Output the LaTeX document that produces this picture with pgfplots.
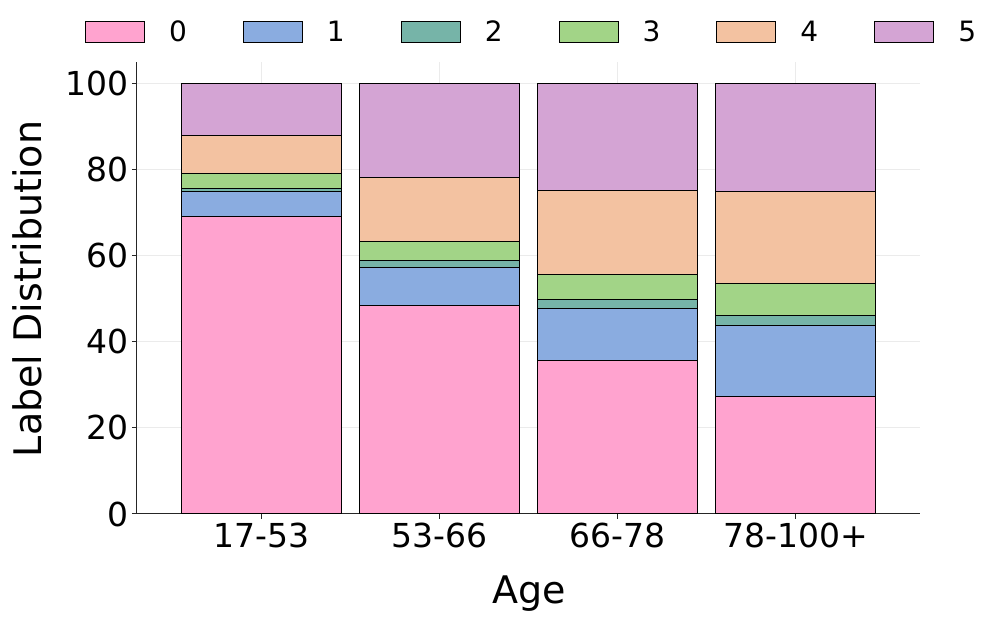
\documentclass[border=0pt]{standalone}
\usepackage{pgfplots}
\pgfplotsset{compat=1.18}
\usepackage{fontspec}
\setmainfont{DejaVu Sans}

\definecolor{c0}{RGB}{255,163,207}
\definecolor{c1}{RGB}{138,172,224}
\definecolor{c2}{RGB}{118,180,168}
\definecolor{c3}{RGB}{162,212,135}
\definecolor{c4}{RGB}{243,194,161}
\definecolor{c5}{RGB}{212,164,212}
\definecolor{gridc}{RGB}{235,235,235}

\begin{document}
\begin{tikzpicture}
\useasboundingbox (-137pt,-106pt) rectangle (859pt,514pt);
\begin{axis}[
scale only axis,
width=783pt,
height=452pt,
ybar stacked,
bar width=0.9,
xmin=-0.7, xmax=3.7,
ymin=0, ymax=105,
xtick=data,
xticklabels={17-53,53-66,66-78,78-100+},
ytick={0,20,40,60,80,100},
axis x line*=bottom,
axis y line*=left,
axis line style={line width=1pt, black!85},
tick align=outside,
major tick length=5pt,
major tick style={line width=1pt, black!85},
grid=major,
major grid style={gridc, line width=1pt},
/pgf/number format/assume math mode=true,
tick label style={font=\fontsize{33}{40}\selectfont},
xlabel={Age},
ylabel={Label Distribution},
label style={font=\fontsize{38}{46}\selectfont},
xlabel style={at={(axis description cs:0.501,-0.197)}, anchor=base},
ylabel style={at={(axis description cs:-0.1405,0.498)}, anchor=center},
legend columns=6,
legend style={draw=none, fill=none, font=\fontsize{28}{34}\selectfont,
  at={(axis description cs:0.504,1.066)}, anchor=center,
  /tikz/every odd column/.append style={column sep=22pt},
  /tikz/every even column/.append style={column sep=54pt}},
legend image code/.code={\draw[#1, line width=1pt] (0pt,-10.5pt) rectangle (59pt,10.5pt);},
every axis plot/.append style={draw=black, line width=1pt},
]
\addplot[fill=c0] coordinates {(0,69.1) (1,48.5) (2,35.7) (3,27.3)};
\addplot[fill=c1] coordinates {(0,5.9) (1,8.7) (2,12.1) (3,16.5)};
\addplot[fill=c2] coordinates {(0,0.7) (1,1.6) (2,2.1) (3,2.3)};
\addplot[fill=c3] coordinates {(0,3.4) (1,4.5) (2,5.8) (3,7.5)};
\addplot[fill=c4] coordinates {(0,8.9) (1,14.9) (2,19.4) (3,21.2)};
\addplot[fill=c5] coordinates {(0,12.0) (1,21.8) (2,24.9) (3,25.2)};
\legend{0,1,2,3,4,5}
\end{axis}
\end{tikzpicture}
\end{document}
